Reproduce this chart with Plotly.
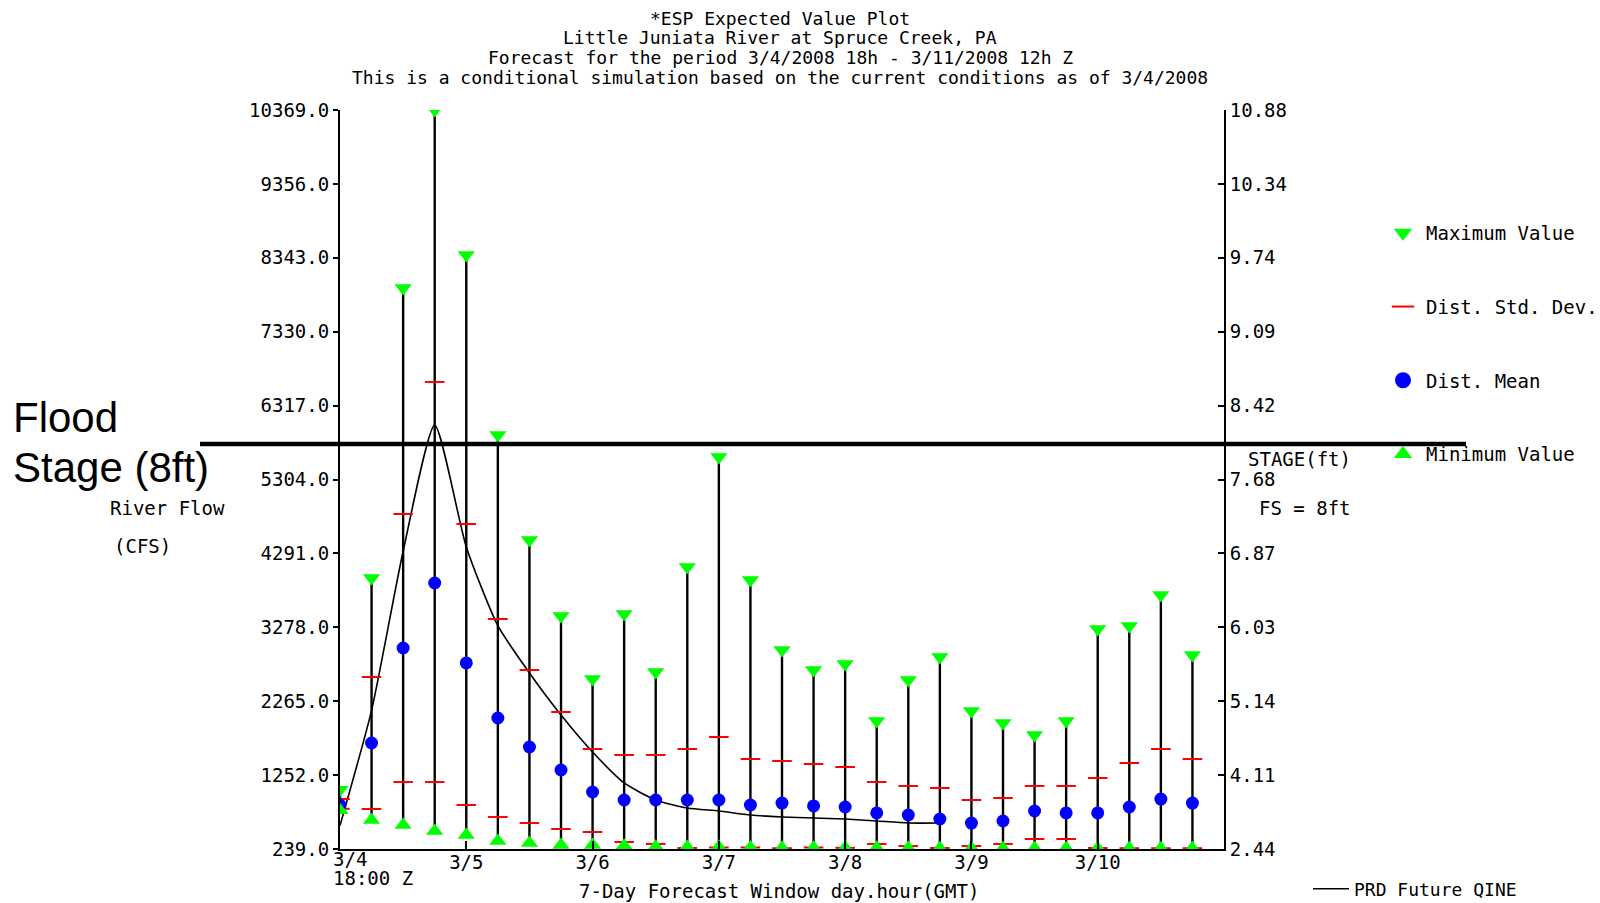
import plotly.graph_objects as go

# ---------------- data ----------------
hours = [0, 6, 12, 18, 24, 30, 36, 42, 48, 54, 60, 66, 72, 78,
         84, 90, 96, 102, 108, 114, 120, 126, 132, 138, 144, 150, 156, 162]
max_flow = [1050, 3954, 7930, 10369, 8382, 5914, 4475, 3433, 2569, 3460, 2665, 4105, 5612, 3926,
            2967, 2693, 2775, 1994, 2556, 2871, 2131, 1966, 1802, 1994, 3255, 3296, 3721, 2898]
std_upper = [925, 2597, 4831, 6641, 4694, 3392, 2693, 2117, 1610, 1528, 1528, 1610, 1774, 1473,
             1445, 1404, 1363, 1157, 1103, 1075, 911, 938, 1103, 1103, 1212, 1418, 1610, 1473]
mean_flow = [842, 1692, 2994, 3885, 2789, 2035, 1637, 1322, 1020, 911, 911, 911, 911, 842,
             869, 829, 815, 733, 705, 650, 595, 623, 760, 733, 733, 815, 924, 869]
std_lower = [790, 787, 1157, 1157, 842, 678, 595, 513, 472, 335, 308, 253, 260, 260,
             250, 260, 255, 308, 280, 253, 280, 308, 376, 376, 253, 250, 250, 250]
min_flow = [770, 636, 568, 486, 431, 349, 321, 294, 294, 285, 270, 266, 266, 260,
            255, 255, 255, 255, 252, 250, 250, 250, 250, 250, 250, 250, 250, 250]
qine_hours = [0, 6, 12, 18, 24, 30, 36, 42, 48, 54, 60, 66, 72, 78,
              84, 90, 96, 102, 108, 114]
qine_flow = [560, 2140, 4320, 6050, 4380, 3300, 2652, 2076, 1569, 1144, 911, 801, 760, 705,
             678, 664, 650, 623, 595, 595]

flow_ticks = [10369.0, 9356.0, 8343.0, 7330.0, 6317.0, 5304.0, 4291.0, 3278.0, 2265.0, 1252.0, 239.0]
stage_labels = ["10.88", "10.34", "9.74", "9.09", "8.42", "7.68", "6.87", "6.03", "5.14", "4.11", "2.44"]
day_ticks = [0, 24, 48, 72, 96, 120, 144]
day_labels = ["3/4", "3/5", "3/6", "3/7", "3/8", "3/9", "3/10"]
FLOOD_FLOW = 5790
X_RANGE = [0, 168]

title_lines = [
    "*ESP Expected Value Plot",
    "Little Juniata River at Spruce Creek, PA",
    "Forecast for the period 3/4/2008 18h - 3/11/2008 12h Z",
    "This is a conditional simulation based on the current conditions as of 3/4/2008",
]

# ---------------- geometry helpers ----------------
W, H = 1600, 903
L, R, T, B = 340, 1224, 110, 849


def px(x):
    return (x - L) / (R - L)


def py(y):
    return (B - y) / (B - T)


MONO = "DejaVu Sans Mono"
FS = 19
GREEN = "#00ff00"
BLUE = "#0000ff"
RED = "#ff0000"

fig = go.Figure()

# vertical min-max range lines + max markers
fig.add_trace(go.Scatter(
    x=hours, y=max_flow, mode="markers",
    marker=dict(symbol="triangle-down", size=15, color=GREEN),
    error_y=dict(type="data", symmetric=False, array=[0] * len(hours),
                 arrayminus=[a - b for a, b in zip(max_flow, min_flow)],
                 color="black", thickness=2.4, width=0),
    showlegend=False, hoverinfo="skip"))

# QINE line
fig.add_trace(go.Scatter(
    x=qine_hours, y=qine_flow, mode="lines",
    line=dict(color="black", width=1.6, shape="spline", smoothing=0.6),
    name="PRD Future QINE", legend="legend2", showlegend=True))

# std dev
for arr in (std_upper, std_lower):
    fig.add_trace(go.Scatter(
        x=hours, y=arr, mode="markers",
        marker=dict(symbol="line-ew", size=14, line=dict(color=RED, width=2)),
        showlegend=False))

# mean
fig.add_trace(go.Scatter(
    x=hours, y=mean_flow, mode="markers",
    marker=dict(symbol="circle", size=13, color=BLUE), showlegend=False))

# min
fig.add_trace(go.Scatter(
    x=hours, y=min_flow, mode="markers",
    marker=dict(symbol="triangle-up", size=15, color=GREEN), showlegend=False))

# legend-only entries (larger symbols, as in the reference legend)
legend_items = [
    ("Maximum Value", dict(symbol="triangle-down", size=20, color=GREEN)),
    ("Dist. Std. Dev.", dict(symbol="line-ew", size=20, line=dict(color=RED, width=2))),
    ("Dist. Mean", dict(symbol="circle", size=20, color=BLUE)),
    ("Minimum Value", dict(symbol="triangle-up", size=20, color=GREEN)),
]
for i, (nm, mk) in enumerate(legend_items):
    fig.add_trace(go.Scatter(x=[None], y=[None], mode="markers", marker=mk, name=nm,
                             legendgroup=f"g{i}", legend="legend", showlegend=True))

# secondary axis carrier for stage labels
fig.add_trace(go.Scatter(x=[None], y=[None], yaxis="y2", showlegend=False))

# flood stage line
fig.add_shape(type="line", xref="paper", yref="y", x0=px(200), x1=px(1466),
              y0=FLOOD_FLOW, y1=FLOOD_FLOW, line=dict(color="black", width=4.5), layer="above")

ann = []
title_y = [18, 38, 58, 78]
for t, yy in zip(title_lines, title_y):
    ann.append(dict(text=t, x=px(780), y=py(yy), xref="paper", yref="paper",
                    xanchor="center", yanchor="middle", showarrow=False,
                    font=dict(family=MONO, size=18, color="black")))

ann += [
    dict(text="Flood", x=px(11), y=py(417), xanchor="left"),
    dict(text="Stage (8ft)", x=px(11), y=py(468), xanchor="left"),
]
for a in ann[-2:]:
    a.update(xref="paper", yref="paper", yanchor="middle", showarrow=False,
             font=dict(family="Liberation Sans, Arial", size=42, color="black"))

small = [
    ("River Flow", 108, 508, "left"),
    ("(CFS)", 112, 546, "left"),
    ("STAGE(ft)", 1246, 459, "left"),
    ("FS = 8ft", 1257, 508, "left"),
    ("3/4", 331, 859, "left"),
    ("18:00 Z", 331, 878, "left"),
    ("7-Day Forecast Window day.hour(GMT)", 779, 891, "center"),
]
for t, x, y, xa in small:
    ann.append(dict(text=t, x=px(x), y=py(y), xref="paper", yref="paper",
                    xanchor=xa, yanchor="middle", showarrow=False,
                    font=dict(family=MONO, size=FS, color="black")))

fig.update_layout(
    width=W, height=H,
    margin=dict(l=L, r=W - R, t=T, b=H - B, pad=0, autoexpand=False),
    paper_bgcolor="white", plot_bgcolor="white",
    font=dict(family=MONO, size=FS, color="black"),
    xaxis=dict(range=X_RANGE, showgrid=False, zeroline=False, showline=True,
               linecolor="black", linewidth=2, ticks="inside", ticklen=8, tickwidth=2,
               tickcolor="black", tickvals=day_ticks, ticklabelstandoff=-5,
               ticktext=[""] + day_labels[1:], tickfont=dict(family=MONO, size=FS)),
    yaxis=dict(range=[flow_ticks[-1], flow_ticks[0]], showgrid=False, zeroline=False,
               showline=True, linecolor="black", linewidth=2, ticks="outside", ticklen=5,
               tickwidth=2, tickcolor="black", tickvals=flow_ticks,
               ticktext=[f"{v:.1f}" for v in flow_ticks], tickfont=dict(family=MONO, size=FS)),
    yaxis2=dict(range=[flow_ticks[-1], flow_ticks[0]], overlaying="y", side="right",
                showgrid=False, zeroline=False, showline=True, linecolor="black", linewidth=2,
                ticks="inside", ticklen=6, tickwidth=2, tickcolor="black",
                tickvals=flow_ticks, ticktext=stage_labels, tickfont=dict(family=MONO, size=FS)),
    legend=dict(x=px(1380), y=py(214), xanchor="left", yanchor="top", traceorder="grouped",
                tracegroupgap=46, bgcolor="rgba(0,0,0,0)", font=dict(family=MONO, size=FS),
                itemwidth=36),
    legend2=dict(x=px(1308), y=py(889), xanchor="left", yanchor="middle",
                 bgcolor="rgba(0,0,0,0)", font=dict(family=MONO, size=18), itemwidth=36),
    annotations=ann,
)

fig.write_html("out.html")
